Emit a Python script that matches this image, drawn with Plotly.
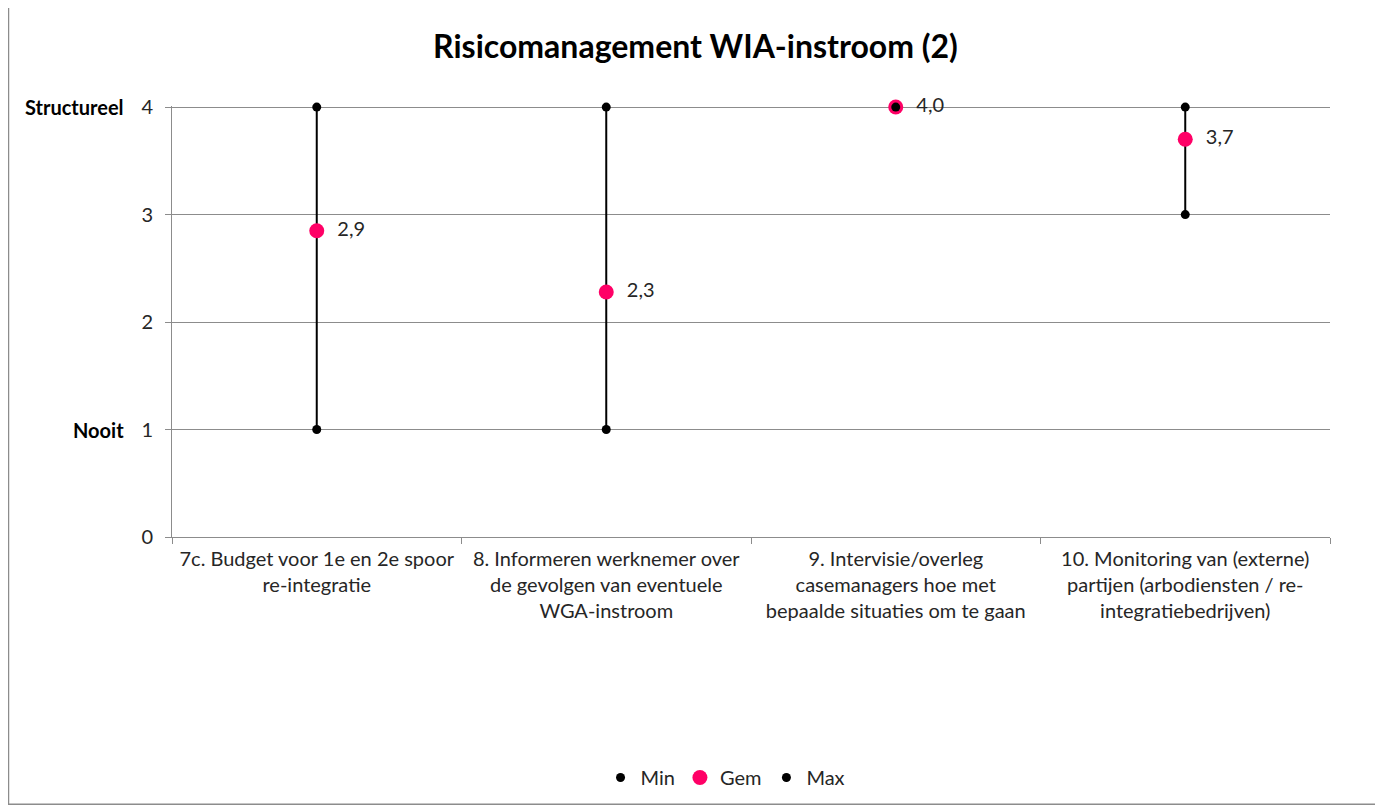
import plotly.graph_objects as go

# categories and values
categories = [
    "7c. Budget voor 1e en 2e spoor<br>re-integratie",
    "8. Informeren werknemer over<br>de gevolgen van eventuele<br>WGA-instroom",
    "9. Intervisie/overleg<br>casemanagers hoe met<br>bepaalde situaties om te gaan",
    "10. Monitoring van (externe)<br>partijen (arbodiensten / re-<br>integratiebedrijven)",
]
min_vals = [1, 1, 4, 3]
gem_vals = [2.85, 2.28, 4.0, 3.7]
max_vals = [4, 4, 4, 4]
y_ticks = [0, 1, 2, 3, 4]
scale_labels = {4: "Structureel", 1: "Nooit"}

FONT = "Lato, 'Open Sans', sans-serif"
GRID = "#8c8c8c"

# high-low lines between min and max
hl_x, hl_y = [], []
for c, lo, hi in zip(categories, min_vals, max_vals):
    hl_x += [c, c, None]
    hl_y += [lo, hi, None]

fig = go.Figure()
fig.add_trace(go.Scatter(x=hl_x, y=hl_y, mode="lines", line=dict(color="black", width=2),
                         showlegend=False, hoverinfo="skip", cliponaxis=False))
fig.add_trace(go.Scatter(x=categories, y=min_vals, mode="markers", name="Min",
                         marker=dict(color="black", size=9), cliponaxis=False))
fig.add_trace(go.Scatter(x=categories, y=gem_vals, mode="markers+text", name="Gem",
                         marker=dict(color="#ff0066", size=15), cliponaxis=False,
                         texttemplate="\u00a0\u00a0%{y:.1f}", textposition="middle right",
                         textfont=dict(size=20, color="#262626")))
fig.add_trace(go.Scatter(x=categories, y=max_vals, mode="markers", name="Max",
                         marker=dict(color="black", size=9), cliponaxis=False))

for val, lab in scale_labels.items():
    fig.add_annotation(x=0, y=val, xref="paper", yref="y", text="<b>" + lab + "</b>",
                       showarrow=False, xanchor="right", yanchor="middle", xshift=-46,
                       font=dict(size=20, color="black"))

# border around the whole chart
fig.add_shape(type="rect", xref="paper", yref="paper",
              x0=-0.1412, x1=1.0432, y0=-0.62, y1=1.232,
              line=dict(color="#8c8c8c", width=1.5))

fig.update_layout(
    width=1375, height=802,
    margin=dict(l=164, r=53, t=98, b=273),
    paper_bgcolor="white", plot_bgcolor="white",
    font=dict(family=FONT, size=20, color="#262626"),
    separators=",.",
    title=dict(text="<b>Risicomanagement WIA-instroom (2)</b>", x=0.5, xanchor="center",
               y=0.951, yanchor="middle", font=dict(size=32, color="black")),
    legend=dict(orientation="h", x=0.478, xanchor="center", y=-0.558, yanchor="middle",
                font=dict(size=20), itemwidth=30, tracegroupgap=0),
    showlegend=True,
)
fig.update_xaxes(type="category", range=[-0.5, 3.5], showline=True, linecolor=GRID,
                 ticks="outside", tickson="boundaries", ticklen=6, tickcolor=GRID,
                 showgrid=False, tickfont=dict(size=20), ticklabelstandoff=4)
fig.update_yaxes(range=[0, 4.01], tickvals=y_ticks, showline=True, linecolor=GRID,
                 ticks="outside", ticklen=6, tickcolor=GRID, showgrid=True,
                 gridcolor=GRID, gridwidth=1.3, zeroline=False, tickfont=dict(size=20),
                 ticklabelstandoff=8)

fig.write_html("out.html")
